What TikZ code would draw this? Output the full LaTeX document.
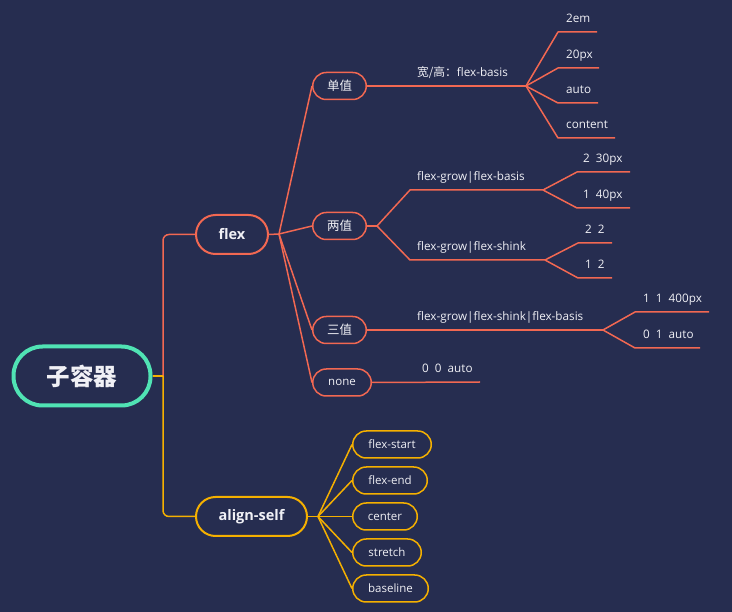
\documentclass[tikz,border=0pt]{standalone}
\usepackage{fontspec}
\setmainfont{Open Sans}
\newfontfamily\cjk{Noto Sans CJK SC}
\definecolor{bg}{RGB}{38,45,80}
\definecolor{mint}{RGB}{80,227,180}
\definecolor{coral}{RGB}{242,104,82}
\definecolor{amber}{RGB}{245,176,0}
\definecolor{ink}{RGB}{240,240,245}
\begin{document}
\begin{tikzpicture}[x=1pt,y=-1pt,
  rootbox/.style={draw=mint, line width=4pt, fill=bg, rounded corners=29pt,
    minimum width=137pt, minimum height=59pt, inner sep=0pt, text=ink,
    font=\cjk\bfseries\fontsize{23.5}{25}\selectfont},
  mainbox/.style={draw=#1, line width=2pt, fill=bg, rounded corners=19.5pt,
    minimum height=39pt, inner sep=0pt, text=ink,
    font=\bfseries\fontsize{14.5}{16}\selectfont},
  subbox/.style={draw=#1, line width=1.5pt, fill=bg, rounded corners=13.5pt,
    minimum height=27pt, inner sep=0pt, text=ink,
    font=\fontsize{11.5}{13}\selectfont},
  hanzi/.style={font=\cjk\fontsize{12.5}{14}\selectfont},
  tag/.style={anchor=base west, inner sep=0pt, text=ink,
    font=\fontsize{11.7}{13}\selectfont},
  redline/.style={draw=coral, line width=1.5pt, line join=round},
  yelline/.style={draw=amber, line width=1.5pt, line join=round},
]
\useasboundingbox (0,0) rectangle (732,612);
\fill[bg] (0,0) rectangle (732,612);

% ---- nodes ----
\node[rootbox] (root) at (82,376) {子容器};
\node[mainbox=coral, minimum width=72pt] (flex) at (232,234.5) {flex};
\node[mainbox=amber, minimum width=111pt] (align) at (251.5,516.5) {align-self};

\node[subbox=coral, hanzi, minimum width=53.5pt] (single) at (339.5,86) {单值};
\node[subbox=coral, hanzi, minimum width=53.5pt] (double) at (339.5,226) {两值};
\node[subbox=coral, hanzi, minimum width=53.5pt] (triple) at (339.5,330) {三值};
\node[subbox=coral, minimum width=58.5pt] (none) at (342,382.5) {none};

\node[subbox=amber, minimum width=78.5pt] (fstart) at (392,444.5) {flex-start};
\node[subbox=amber, minimum width=74.5pt] (fend) at (390,480.5) {flex-end};
\node[subbox=amber, minimum width=64.5pt] (fcenter) at (385,516.5) {center};
\node[subbox=amber, minimum width=68.5pt] (fstretch) at (387,552.5) {stretch};
\node[subbox=amber, minimum width=75.5pt] (fbase) at (390.5,588.5) {baseline};

% ---- trunk from the root ----
\coordinate (trunk) at (163,376);
\draw[redline, rounded corners=6pt] (trunk) |- (flex.west);
\draw[yelline] (root.east) -- (trunk);
\draw[yelline, rounded corners=6pt] (trunk) |- (align.west);

% ---- flex branches ----
\coordinate (flexfork) at (279,234);
\draw[redline] (flex.east) -- (flexfork);
\foreach \n in {single,double,triple,none}
  \draw[redline] (flexfork) -- (\n.west);

% single value
\coordinate (sfork) at (526,86);
\draw[redline] (single.east) -- (sfork);
\node[tag] (slabel) at (417,76.5) {{\cjk 宽/高：}flex-basis};
\foreach \y/\xe/\t [count=\i] in {32/597/2em, 68/599/20px, 103/598/auto, 138/615/content}{
  \coordinate (sa\i) at (558,\y);
  \coordinate (sb\i) at (\xe,\y);
  \draw[redline] (sfork) -- (sa\i) -- (sb\i);
  \node[tag] (sl\i) at (566,\y-9.5) {\t};
}

% two values
\coordinate (dfork) at (377,226);
\draw[redline] (double.east) -- (dfork);
\coordinate (da) at (410,190);
\coordinate (db) at (410,260);
\coordinate (dafork) at (543,190);
\coordinate (dbfork) at (545,260);
\draw[redline] (dfork) -- (da) -- (dafork);
\draw[redline] (dfork) -- (db) -- (dbfork);
\node[tag] (dalabel) at (417,180.5) {flex-grow|flex-basis};
\node[tag] (dblabel) at (417,250.5) {flex-grow|flex-shink};
\foreach \y/\t [count=\i] in {172/2~~30px, 208/1~~40px}{
  \coordinate (daa\i) at (577,\y);
  \coordinate (dab\i) at (630,\y);
  \draw[redline] (dafork) -- (daa\i) -- (dab\i);
  \node[tag] (dal\i) at (583,\y-9.5) {\t};
}
\foreach \y/\t [count=\i] in {243/2~~2, 278/1~~2}{
  \coordinate (dba\i) at (578,\y);
  \coordinate (dbb\i) at (612,\y);
  \draw[redline] (dbfork) -- (dba\i) -- (dbb\i);
  \node[tag] (dbl\i) at (585,\y-9.5) {\t};
}

% three values
\coordinate (tfork) at (603,330);
\draw[redline] (triple.east) -- (tfork);
\node[tag] (tlabel) at (417,320.5) {flex-grow|flex-shink|flex-basis};
\foreach \y/\xe/\t [count=\i] in {312/709/1~~1~~400px, 348/700/0~~1~~auto}{
  \coordinate (ta\i) at (635,\y);
  \coordinate (tb\i) at (\xe,\y);
  \draw[redline] (tfork) -- (ta\i) -- (tb\i);
  \node[tag] (tl\i) at (643,\y-9.5) {\t};
}

% none
\coordinate (nend) at (480,382);
\draw[redline] (none.east) -- (nend);
\node[tag] (nlabel) at (422,372.5) {0~~0~~auto};

% ---- align-self branches ----
\coordinate (afork) at (318,516.5);
\draw[yelline] (align.east) -- (afork);
\foreach \n in {fstart,fend,fcenter,fstretch,fbase}
  \draw[yelline] (afork) -- (\n.west);
\end{tikzpicture}
\end{document}
